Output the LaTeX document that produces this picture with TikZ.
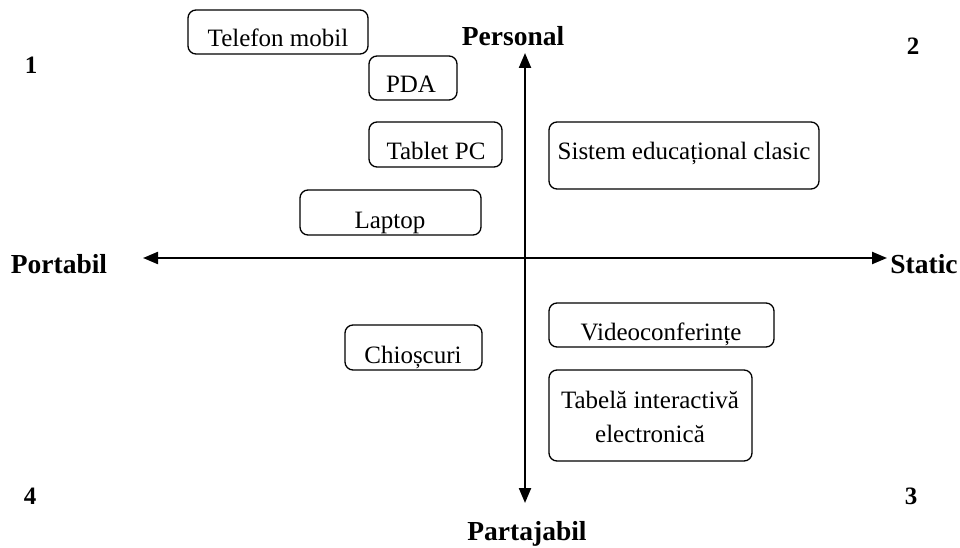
\documentclass[tikz,border=0pt]{standalone}
\usepackage{fontspec}
\setmainfont{Liberation Serif}
\usetikzlibrary{arrows.meta}
\tikzset{
  itembox/.style={draw, line width=1.3pt, rounded corners=8pt, anchor=north west, inner sep=0pt, outer sep=0pt},
  itemtext/.style={anchor=base, inner sep=0pt, font=\fontsize{25}{30}\selectfont},
  axislabel/.style={anchor=base, inner sep=0pt, font=\fontsize{27.5}{33}\selectfont\bfseries},
  quadnum/.style={anchor=base, inner sep=0pt, font=\fontsize{25}{30}\selectfont\bfseries},
  axisline/.style={line width=2.2pt, {Triangle[length=15pt,width=12pt]}-{Triangle[length=15pt,width=12pt]}}
}
\begin{document}
\begin{tikzpicture}[x=1pt,y=-1pt]
\useasboundingbox (0,0) rectangle (960,548);
% boxes
\node[itembox, minimum width=180pt, minimum height=44pt] (tel) at (188,10) {};
\node[itemtext] (telt) at (278,47) {Telefon mobil};
\node[itembox, minimum width=88pt, minimum height=44pt] (pda) at (369,56) {};
\node[itemtext] (pdat) at (411,93) {PDA};
\node[itembox, minimum width=133pt, minimum height=45pt] (tab) at (369,122) {};
\node[itemtext] (tabt) at (436,160) {Tablet PC};
\node[itembox, minimum width=270pt, minimum height=67pt] (sis) at (549,122) {};
\node[itemtext] (sist) at (684,160) {Sistem educațional clasic};
\node[itembox, minimum width=181pt, minimum height=45pt] (lap) at (300,190) {};
\node[itemtext] (lapt) at (390,228) {Laptop};
\node[itembox, minimum width=137pt, minimum height=45pt] (chi) at (345,325) {};
\node[itemtext] (chit) at (413,363) {Chioșcuri};
\node[itembox, minimum width=225pt, minimum height=44pt] (vid) at (549,303) {};
\node[itemtext] (vidt) at (661,340) {Videoconferințe};
\node[itembox, minimum width=203pt, minimum height=91pt] (tbl) at (549,370) {};
\node[itemtext] (tblt1) at (650,408) {Tabelă interactivă};
\node[itemtext] (tblt2) at (650,442) {electronică};
% axes
\coordinate (top) at (525,53);
\coordinate (bot) at (525,503);
\coordinate (lft) at (143,258);
\coordinate (rgt) at (887,258);
\draw[axisline] (lft) -- (rgt);
\draw[axisline] (bot) -- (top);
% labels
\node[axislabel] (per) at (513,46) {Personal};
\node[axislabel] (por) at (59,273) {Portabil};
\node[axislabel] (sta) at (924,273) {Static};
\node[axislabel] (par) at (527,540) {Partajabil};
\node[quadnum] (n1) at (31,74) {1};
\node[quadnum] (n2) at (913,55) {2};
\node[quadnum] (n3) at (911,504) {3};
\node[quadnum] (n4) at (30,504) {4};
\end{tikzpicture}
\end{document}
